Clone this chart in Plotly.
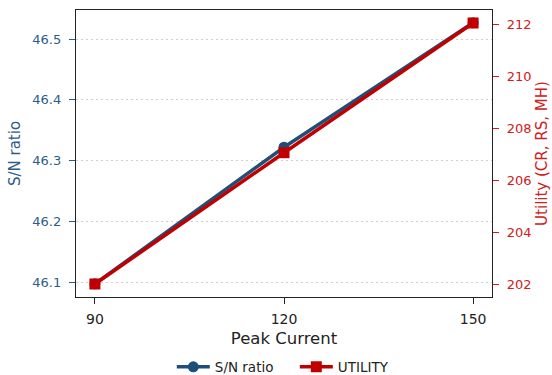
import plotly.graph_objects as go

peak_current = [90, 120, 150]
sn_ratio = [46.097, 46.322, 46.527]
utility = [202.0, 207.05, 212.04]

BLUE = "#1f4e79"
RED = "#c00000"
BLUE_TXT = "#2e5c8a"
RED_TXT = "#d02020"
FONT = "DejaVu Sans"

W, H = 552, 375

fig = go.Figure()
fig.add_trace(go.Scatter(
    x=peak_current, y=sn_ratio, name="S/N ratio", mode="lines+markers",
    line=dict(color=BLUE, width=3.5), marker=dict(symbol="circle", size=11, color=BLUE),
    yaxis="y"))
fig.add_trace(go.Scatter(
    x=peak_current, y=utility, name="UTILITY", mode="lines+markers",
    line=dict(color=RED, width=3.5), marker=dict(symbol="square", size=11, color=RED),
    yaxis="y2"))

fig.update_layout(
    width=W, height=H,
    margin=dict(l=76, r=60, t=10, b=78),
    paper_bgcolor="white", plot_bgcolor="white",
    font=dict(family=FONT, size=12, color="#222"),
    showlegend=True,
    legend=dict(orientation="h", x=0.526, xanchor="center", xref="paper",
                y=1 - 367 / H, yanchor="middle", yref="container",
                font=dict(size=13.5, color="#222"), itemwidth=33,
                entrywidth=75, entrywidthmode="pixels"),
    xaxis=dict(range=[87, 153], tickvals=peak_current, ticks="outside", ticklen=6,
               tickcolor="#222", showline=True, linecolor="#222", linewidth=1.3, mirror=True,
               showgrid=False, zeroline=False, automargin=False, ticklabelstandoff=3,
               title=dict(text="Peak Current", font=dict(size=16.5, color="#222"), standoff=6),
               tickfont=dict(size=14, color="#222")),
    yaxis=dict(range=[46.0753, 46.548], tickvals=[46.1, 46.2, 46.3, 46.4, 46.5],
               tickformat=".1f", ticks="outside", ticklen=6, tickcolor=BLUE_TXT,
               showline=True, linecolor="#222", linewidth=1.3, automargin=False,
               ticklabelstandoff=5,
               showgrid=True, gridcolor="#d0d0d0", griddash="2px,3px", gridwidth=1, zeroline=False,
               title=dict(text="S/N ratio", font=dict(size=15, color=BLUE_TXT), standoff=8),
               tickfont=dict(size=13, color=BLUE_TXT)),
    yaxis2=dict(range=[201.5, 212.54], tickvals=[202, 204, 206, 208, 210, 212],
                overlaying="y", side="right", ticks="outside", ticklen=6, tickcolor=RED_TXT,
                showline=True, linecolor="#222", linewidth=1.3, automargin=False,
                ticklabelstandoff=5,
                showgrid=False, zeroline=False,
                title=dict(text="Utility (CR, RS, MH)", font=dict(size=15, color=RED_TXT), standoff=5),
                tickfont=dict(size=13, color=RED_TXT)),
)

fig.write_html("out.html", config={"displayModeBar": False},
               post_script="document.body.style.margin='0';document.body.style.overflow='hidden';")
